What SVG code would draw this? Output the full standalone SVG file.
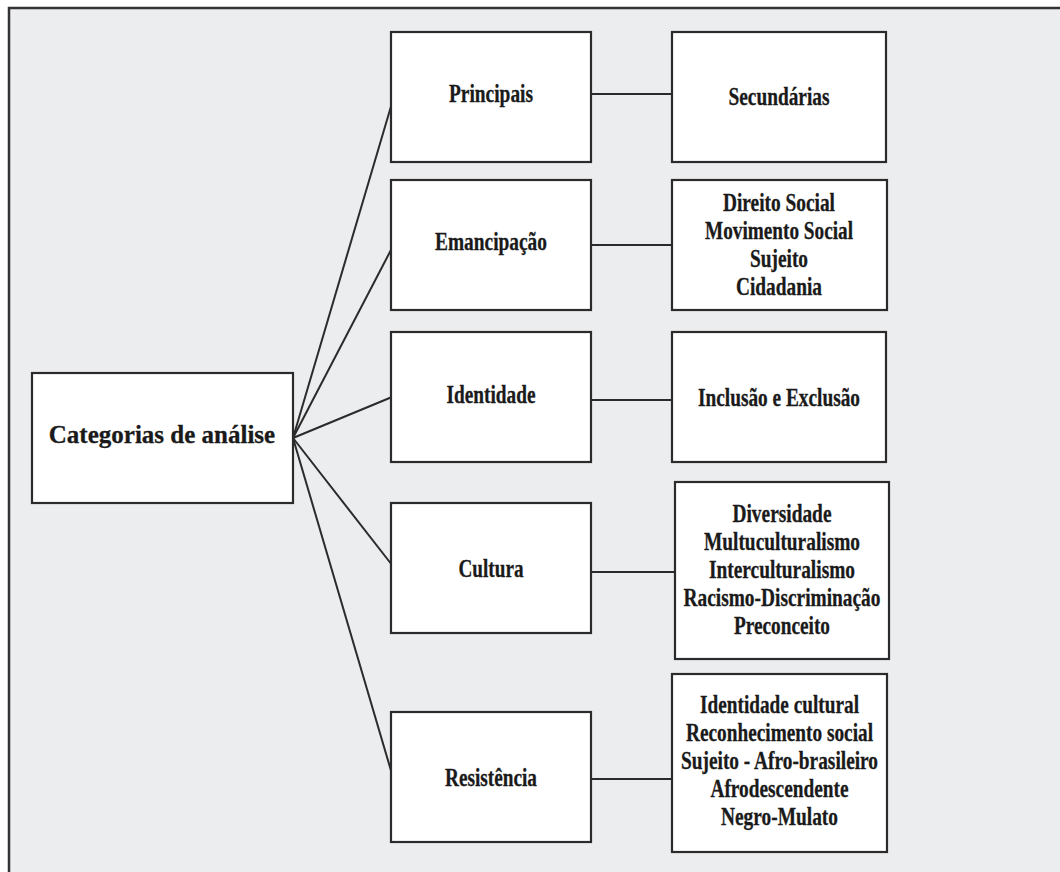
<svg xmlns="http://www.w3.org/2000/svg" width="1060" height="872" viewBox="0 0 1060 872">
<style>
.frame{fill:#ecedef;stroke:#333;stroke-width:2.5}
.box{fill:#fff;stroke:#2b2b2b;stroke-width:2.2}
.con line{stroke:#2b2b2b;stroke-width:2}
.t text{font-family:'Liberation Serif',serif;font-weight:700;font-size:25px;fill:#1a1a1a;text-anchor:middle;stroke:#1a1a1a;stroke-width:0.3}
</style>
<rect width="1060" height="872" fill="#fff"/>
<rect class="frame" x="9" y="8" width="1100" height="900"/>
<g class="con" id="connectors">
<line x1="293" y1="438" x2="392" y2="103"/>
<line x1="293" y1="438" x2="392" y2="248"/>
<line x1="293" y1="438" x2="392" y2="397"/>
<line x1="293" y1="438" x2="392" y2="565"/>
<line x1="293" y1="438" x2="392" y2="774"/>
<line x1="591" y1="94" x2="672" y2="94"/>
<line x1="591" y1="245" x2="672" y2="245"/>
<line x1="591" y1="400" x2="672" y2="400"/>
<line x1="591" y1="572" x2="675" y2="572"/>
<line x1="591" y1="779" x2="672" y2="779"/>
</g>
<g class="t">
<g id="categorias">
<rect class="box" x="32" y="373" width="261" height="130"/>
<text x="162" y="443">Categorias de análise</text>
</g>
<g id="principais">
<rect class="box" x="391" y="32" width="200" height="130"/>
<text x="491" y="102" textLength="84" lengthAdjust="spacingAndGlyphs">Principais</text>
</g>
<g id="secundarias">
<rect class="box" x="672" y="32" width="214" height="130"/>
<text x="779" y="105" textLength="101" lengthAdjust="spacingAndGlyphs">Secundárias</text>
</g>
<g id="emancipacao">
<rect class="box" x="391" y="180" width="200" height="130"/>
<text x="491" y="250" textLength="112" lengthAdjust="spacingAndGlyphs">Emancipação</text>
</g>
<g id="emancipacao-sub">
<rect class="box" x="672" y="180" width="215" height="130"/>
<text x="779" y="211" textLength="112" lengthAdjust="spacingAndGlyphs">Direito Social</text>
<text x="779" y="239" textLength="148" lengthAdjust="spacingAndGlyphs">Movimento Social</text>
<text x="779" y="267" textLength="58" lengthAdjust="spacingAndGlyphs">Sujeito</text>
<text x="779" y="295" textLength="86" lengthAdjust="spacingAndGlyphs">Cidadania</text>
</g>
<g id="identidade">
<rect class="box" x="391" y="332" width="200" height="130"/>
<text x="491" y="403" textLength="89" lengthAdjust="spacingAndGlyphs">Identidade</text>
</g>
<g id="identidade-sub">
<rect class="box" x="672" y="332" width="214" height="130"/>
<text x="779" y="406" textLength="162" lengthAdjust="spacingAndGlyphs">Inclusão e Exclusão</text>
</g>
<g id="cultura">
<rect class="box" x="391" y="503" width="200" height="130"/>
<text x="491" y="577" textLength="65" lengthAdjust="spacingAndGlyphs">Cultura</text>
</g>
<g id="cultura-sub">
<rect class="box" x="675" y="482" width="214" height="177"/>
<text x="782" y="522" textLength="99" lengthAdjust="spacingAndGlyphs">Diversidade</text>
<text x="782" y="550" textLength="156" lengthAdjust="spacingAndGlyphs">Multuculturalismo</text>
<text x="782" y="578" textLength="146" lengthAdjust="spacingAndGlyphs">Interculturalismo</text>
<text x="782" y="606" textLength="197" lengthAdjust="spacingAndGlyphs">Racismo-Discriminação</text>
<text x="782" y="634" textLength="96" lengthAdjust="spacingAndGlyphs">Preconceito</text>
</g>
<g id="resistencia">
<rect class="box" x="391" y="712" width="200" height="130"/>
<text x="491" y="786" textLength="92" lengthAdjust="spacingAndGlyphs">Resistência</text>
</g>
<g id="resistencia-sub">
<rect class="box" x="672" y="674" width="215" height="178"/>
<text x="779.5" y="713" textLength="159" lengthAdjust="spacingAndGlyphs">Identidade cultural</text>
<text x="779.5" y="741" textLength="187" lengthAdjust="spacingAndGlyphs">Reconhecimento social</text>
<text x="779.5" y="769" textLength="197" lengthAdjust="spacingAndGlyphs">Sujeito - Afro-brasileiro</text>
<text x="779.5" y="797" textLength="138" lengthAdjust="spacingAndGlyphs">Afrodescendente</text>
<text x="779.5" y="825" textLength="117" lengthAdjust="spacingAndGlyphs">Negro-Mulato</text>
</g>
</g>
</svg>
